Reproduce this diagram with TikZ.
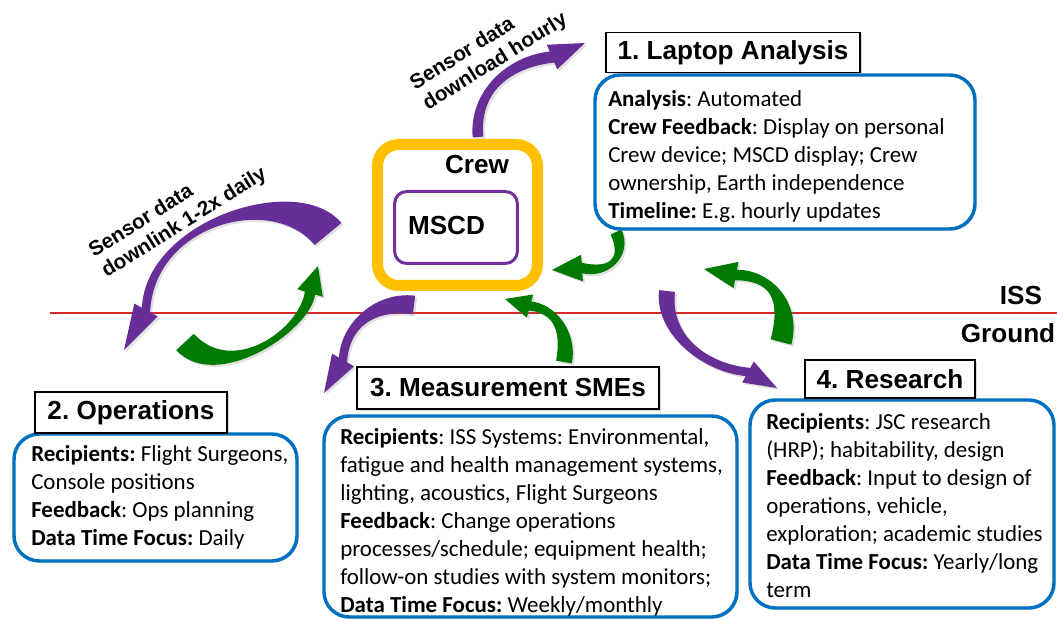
\documentclass[tikz,border=0pt]{standalone}
\usepackage{fontspec}
\setmainfont{Carlito}
\newfontfamily\arialfont{Liberation Sans}
\usetikzlibrary{calc,shadows}
\frenchspacing

\definecolor{issblue}{RGB}{0,112,192}
\definecolor{crewgold}{RGB}{255,192,0}
\definecolor{mscdpurple}{RGB}{112,48,160}
\definecolor{arrowpurple}{RGB}{104,46,152}
\definecolor{arrowgreen}{RGB}{0,122,0}
\definecolor{orbitred}{RGB}{214,40,40}

% bent block arrow: style, tail, control 1, control 2, head base, tip,
% half width at the tail, half width at the head, half width of the barbs
\newcommand\bentarrow[9]{%
  \coordinate (ta) at ($(#2)!#7!90:(#3)$);
  \coordinate (tb) at ($(#2)!#7!-90:(#3)$);
  \coordinate (ha) at ($(#5)!#8!90:(#6)$);
  \coordinate (hb) at ($(#5)!#8!-90:(#6)$);
  \coordinate (wa) at ($(#5)!#9!90:(#6)$);
  \coordinate (wb) at ($(#5)!#9!-90:(#6)$);
  \fill[#1] (ta) .. controls ($(#3)+(ta)-(#2)$) and ($(#4)+(ha)-(#5)$) .. (ha)
    -- (wa) -- (#6) -- (wb) -- (hb)
    .. controls ($(#4)+(hb)-(#5)$) and ($(#3)+(tb)-(#2)$) .. (tb) -- cycle;
}

\begin{document}
\begin{tikzpicture}[x=0.75pt,y=-0.75pt,
    titlebox/.style={draw=black, line width=1.3pt, fill=white, inner sep=0pt,
      font=\arialfont\bfseries\fontsize{19.6}{22}\selectfont,
      drop shadow={shadow xshift=1.5pt,shadow yshift=-1.5pt,opacity=.3}},
    infobox/.style={draw=issblue, line width=2.6pt, rounded corners=19pt, fill=white,
      drop shadow={shadow xshift=1.2pt,shadow yshift=-1.2pt,opacity=.2}},
    infotext/.style={anchor=west, align=left, inner sep=0pt, font=\fontsize{17.2}{21}\selectfont},
    sensorlabel/.style={align=left, inner sep=0pt, font=\arialfont\bfseries\fontsize{15.5}{18}\selectfont},
    biglabel/.style={inner sep=0pt, font=\arialfont\bfseries\fontsize{19.6}{22}\selectfont},
    purplearrow/.style={arrowpurple, drop shadow={shadow xshift=1.5pt,shadow yshift=-1.5pt,opacity=.25}},
    greenarrow/.style={arrowgreen, drop shadow={shadow xshift=1.5pt,shadow yshift=-1.5pt,opacity=.25}}]
  \useasboundingbox (0,0) rectangle (1057,620);

  % ISS / ground divide
  \draw[orbitred, line width=1.2pt] (50,313) -- (1057,313);
  \node[biglabel] (isslabel) at (1021,296) {ISS};
  \node[biglabel] (groundlabel) at (1008,333) {Ground};

  % data flow arrows
  \bentarrow{purplearrow}{478,137}{474,92}{508,62}{552,57}{585,43}{4pt}{4.5pt}{10pt}
  \bentarrow{purplearrow}{328,234}{285,182}{150,222}{146,310}{124,350}{13pt}{3.5pt}{10pt}
  \bentarrow{greenarrow}{185,342}{225,385}{305,330}{310,293}{318,266}{9pt}{4pt}{10pt}
  \bentarrow{greenarrow}{616,232}{628,258}{608,274}{582,268}{552,270}{4.5pt}{4pt}{10pt}
  \bentarrow{purplearrow}{414,305}{375,300}{345,325}{343,360}{324,393}{7pt}{3.5pt}{9.5pt}
  \bentarrow{greenarrow}{564,362}{570,328}{552,308}{530,306}{505,299}{6pt}{3.5pt}{9pt}
  \bentarrow{purplearrow}{667,291}{662,335}{705,368}{748,372}{777,388}{6pt}{3.5pt}{9pt}
  \bentarrow{greenarrow}{781,342}{792,300}{770,275}{736,275}{704,269}{8pt}{4pt}{10pt}

  \node[sensorlabel, rotate=32] (hourlylabel) at (489,52) {Sensor data\\download hourly};
  \node[sensorlabel, rotate=32] (dailylabel) at (178,213) {Sensor data\\downlink 1-2x daily};

  % crew and the device
  \node[draw=crewgold, line width=8.25pt, rounded corners=16pt, fill=white,
    minimum width=120pt, minimum height=105.75pt] (crew) at (457.5,215) {};
  \node[draw=mscdpurple, line width=2.25pt, rounded corners=9pt,
    minimum width=92pt, minimum height=54pt] (mscd) at (456,227.5) {};
  \node[biglabel] (crewlabel) at (477,165) {Crew};
  \node[biglabel] (mscdlabel) at (446.5,226) {MSCD};

  % 1. laptop analysis
  \draw[infobox] (595,75) rectangle (975,229);
  \node[titlebox, minimum width=191pt, minimum height=30pt] (laptoptitle) at (733,52.5) {1. Laptop Analysis};
  \node[infotext] (laptoptext) at (608,156) {\textbf{Analysis}: Automated\\
    \textbf{Crew Feedback}: Display on personal\\
    Crew device; MSCD display; Crew\\
    ownership, Earth independence\\
    \textbf{Timeline:} E.g. hourly updates};

  % 2. operations
  \draw[infobox] (14,434) rectangle (297,561);
  \node[titlebox, minimum width=144pt, minimum height=30.75pt] (opstitle) at (131,412.5) {2. Operations};
  \node[infotext] (opstext) at (31,497) {\textbf{Recipients:} Flight Surgeons,\\
    Console positions\\
    \textbf{Feedback}: Ops planning\\
    \textbf{Data Time Focus:} Daily};

  % 3. measurement SMEs
  \draw[infobox] (324,416) rectangle (737,617);
  \node[titlebox, minimum width=226pt, minimum height=31pt] (smetitle) at (508,388) {3. Measurement SMEs};
  \node[infotext] (smetext) at (340,522) {\textbf{Recipients}: ISS Systems: Environmental,\\
    fatigue and health management systems,\\
    lighting, acoustics, Flight Surgeons\\
    \textbf{Feedback}: Change operations\\
    processes/schedule; equipment health;\\
    follow-on studies with system monitors;\\
    \textbf{Data Time Focus:} Weekly/monthly};

  % 4. research
  \draw[infobox] (750,400) rectangle (1054,608);
  \node[titlebox, minimum width=127.5pt, minimum height=28.5pt] (researchtitle) at (890,379) {4. Research};
  \node[infotext] (researchtext) at (766,506) {\textbf{Recipients}: JSC research\\
    (HRP); habitability, design\\
    \textbf{Feedback}: Input to design of\\
    operations, vehicle,\\
    exploration; academic studies\\
    \textbf{Data Time Focus:} Yearly/long\\
    term};
\end{tikzpicture}
\end{document}
